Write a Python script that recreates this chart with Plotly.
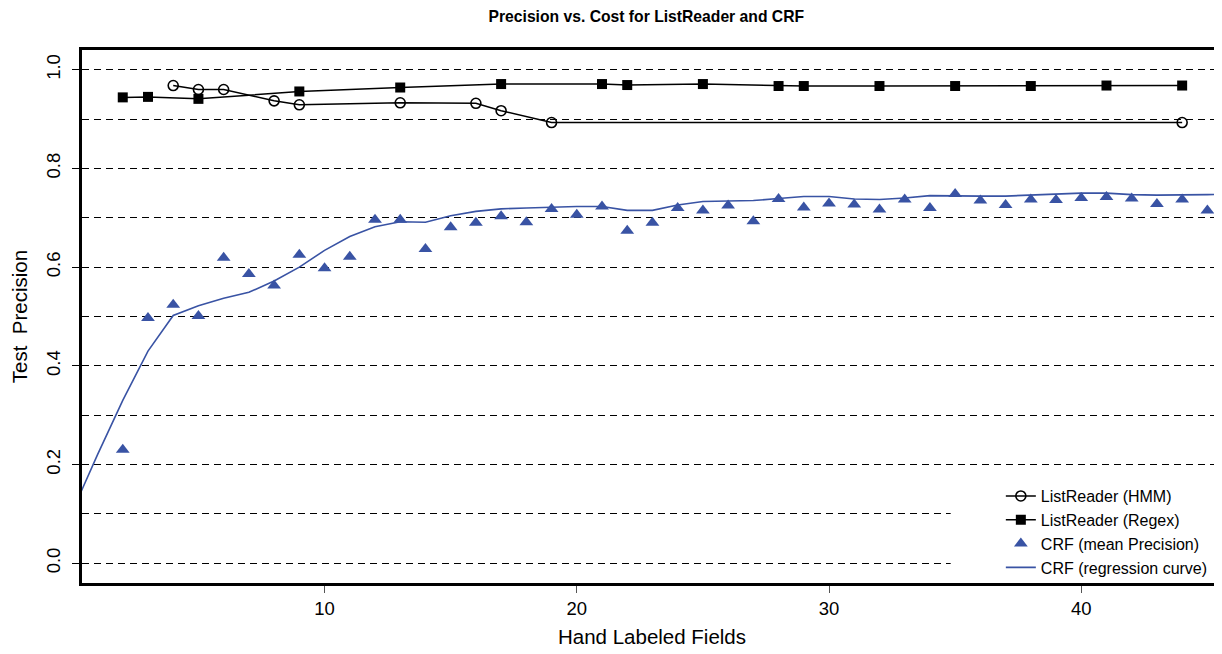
import plotly.graph_objects as go

# ---- data ----
hmm_x = [4, 5, 6, 8, 9, 13, 16, 17, 19, 44]
hmm_y = [0.968, 0.960, 0.960, 0.937, 0.929, 0.933, 0.932, 0.917, 0.893, 0.893]

regex_x = [2, 3, 5, 9, 13, 17, 21, 22, 25, 28, 29, 32, 35, 38, 41, 44]
regex_y = [0.944, 0.945, 0.941, 0.956, 0.964, 0.971, 0.971, 0.969, 0.971,
           0.967, 0.967, 0.967, 0.967, 0.967, 0.968, 0.968]

crf_x = list(range(2, 46))
crf_y = [0.230, 0.497, 0.524, 0.501, 0.619, 0.586, 0.563, 0.625, 0.598, 0.621,
         0.696, 0.696, 0.637, 0.681, 0.690, 0.703, 0.691, 0.718, 0.706, 0.723,
         0.674, 0.690, 0.720, 0.715, 0.725, 0.693, 0.738, 0.721, 0.729, 0.727,
         0.717, 0.737, 0.720, 0.748, 0.735, 0.726, 0.737, 0.736, 0.740, 0.742,
         0.739, 0.728, 0.737, 0.715]

reg_x = list(range(0, 47))
reg_y = [0.105, 0.220, 0.330, 0.430, 0.502, 0.522, 0.537, 0.549, 0.572, 0.600,
         0.634, 0.662, 0.682, 0.692, 0.691, 0.704, 0.713, 0.718, 0.720, 0.722,
         0.723, 0.723, 0.715, 0.715, 0.726, 0.733, 0.734, 0.735, 0.739, 0.743,
         0.743, 0.738, 0.737, 0.740, 0.745, 0.744, 0.744, 0.744, 0.746, 0.749,
         0.750, 0.750, 0.747, 0.746, 0.746, 0.747, 0.748]

x_ticks = [10, 20, 30, 40]
y_ticks = [0.0, 0.2, 0.4, 0.6, 0.8, 1.0]
y_tick_labels = ["0.0", "0.2", "0.4", "0.6", "0.8", "1.0"]

BLUE = "#3953a4"
FONT = "Liberation Sans, Arial, Helvetica, sans-serif"

fig = go.Figure()

fig.add_trace(go.Scatter(
    x=reg_x, y=reg_y, mode="lines", name="CRF (regression curve)",
    line=dict(color=BLUE, width=1.6), legendrank=4))
fig.add_trace(go.Scatter(
    x=crf_x, y=crf_y, mode="markers", name="CRF (mean Precision)",
    marker=dict(symbol="triangle-up", size=12, color=BLUE), legendrank=3))
fig.add_trace(go.Scatter(
    x=hmm_x, y=hmm_y, mode="lines+markers", name="ListReader (HMM)",
    line=dict(color="black", width=1.5),
    marker=dict(symbol="circle-open", size=10, color="black",
                line=dict(width=1.6, color="black")), legendrank=1))
fig.add_trace(go.Scatter(
    x=regex_x, y=regex_y, mode="lines+markers", name="ListReader (Regex)",
    line=dict(color="black", width=1.5),
    marker=dict(symbol="square", size=10, color="black"), legendrank=2))

# white backing behind the legend (covers the lower dashed lines there)
fig.add_shape(type="rect", xref="paper", yref="y", x0=0.762, x1=1.0,
              y0=-0.035, y1=0.15, fillcolor="white", line=dict(width=0),
              layer="above")

fig.update_layout(
    width=1222, height=654,
    margin=dict(l=72, r=8, t=42, b=79),
    paper_bgcolor="white", plot_bgcolor="white",
    font=dict(family=FONT, color="black"),
    title=dict(text="<b>Precision vs. Cost for ListReader and CRF</b>",
               font=dict(size=15.7, family=FONT, color="black"),
               x=0.495, xref="paper", xanchor="center",
               y=1 - 3 / 654, yref="container", yanchor="top",
               pad=dict(t=0, b=0, l=0, r=0)),
    showlegend=True,
    legend=dict(x=0.806, xanchor="left", y=0.195, yanchor="top",
                bgcolor="rgba(255,255,255,0)", borderwidth=0,
                font=dict(size=16, family=FONT, color="black"),
                tracegroupgap=0, itemwidth=30),
)

fig.update_xaxes(
    range=[0.384, 45.58], tickvals=x_ticks, ticks="outside", ticklen=7,
    tickwidth=1, tickcolor="#555", showline=True, linewidth=2.5,
    linecolor="black", mirror=True, showgrid=False, zeroline=False,
    tickfont=dict(size=18.5, family=FONT, color="black"),
    title=dict(text="Hand Labeled Fields", standoff=12,
               font=dict(size=20.5, family=FONT, color="black")),
)

fig.update_yaxes(
    range=[-0.04, 1.04], tickvals=y_ticks, ticktext=y_tick_labels,
    tickangle=-90, ticks="outside", ticklen=7, tickwidth=1, tickcolor="black",
    ticklabelstandoff=5,
    showline=True, linewidth=2.5, linecolor="black", mirror=False,
    showgrid=True, gridcolor="black", gridwidth=1.3, griddash="7px,5px",
    minor=dict(dtick=0.1, tick0=0, showgrid=True, gridcolor="black",
               gridwidth=1.3, griddash="7px,5px", ticks=""),
    zeroline=False,
    tickfont=dict(size=18.5, family=FONT, color="black"),
    title=dict(text="Test\u00a0 Precision", standoff=12,
               font=dict(size=20.5, family=FONT, color="black")),
)

fig.write_html("out.html")
